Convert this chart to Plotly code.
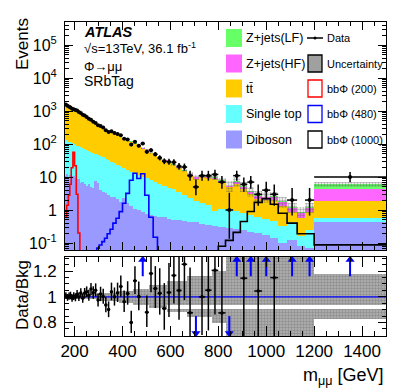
import numpy as np
import plotly.graph_objects as go

# bin edges, m_mumu [GeV]
edges = [160, 167, 174, 180, 186, 193, 200, 207, 214, 222, 230, 238, 246, 255, 264, 273, 283, 293,
         303, 314, 325, 336, 348, 360, 373, 386, 400, 414, 429, 444, 460, 476, 493, 510, 528, 546,
         565, 584, 604, 625, 647, 670, 694, 719, 745, 772, 800, 830, 862, 892, 921, 950, 983, 1017,
         1050, 1087, 1129, 1162, 1200, 1500]

# background expectations per bin (events)
diboson = [11, 12, 10, 11.5, 9, 10.5, 9.5, 8, 8.5, 6.5,
           7, 6, 5.5, 6, 5, 4.8, 7.5, 6.5, 4, 3.5,
           3.2, 2.8, 2.5, 2.4, 2.2, 1.8, 2.3, 1.6, 1.3, 1.1,
           1.0, 0.9, 0.75, 0.7, 0.65, 0.6, 0.62, 0.55, 0.5, 0.5,
           0.45, 0.42, 0.42, 0.38, 0.35, 0.32, 0.3, 0.28, 0.26, 0.24,
           0.22, 0.2, 0.17, 0.14, 0.1, 0.12, 0.08, 0.07, 0.42]
single_top = [121, 113, 108, 100, 97, 90, 85, 82, 76, 73,
              67, 64, 60, 55, 52, 48, 42, 40, 39, 36,
              33, 29, 26.5, 23.6, 21.3, 19.2, 16.7, 14.9, 13.2, 11.9,
              10.5, 9.1, 8.3, 7.3, 6.4, 5.4, 4.7, 4.1, 3.7, 3.0,
              2.35, 1.88, 1.48, 1.22, 1.05, 0.63, 0.8, 0.77, 0.69, 0.56,
              0.48, 0.42, 0.38, 0.31, 0.22, 0.3, 0.08, 0.18, 0.15]
ttbar = [1360, 1267, 1182, 1101, 1026, 979, 935, 892, 817, 740,
         673, 613, 541, 493, 439, 385, 350, 320, 289, 263,
         234, 214, 197, 181, 164, 143, 125, 113, 101, 88,
         74, 61.5, 53, 43.7, 36.3, 28.8, 25.7, 21.7, 18.3, 15.3,
         12.2, 9.0, 7.1, 8.3, 8.0, 8.0, 6.1, 3.9, 5.1, 3.4,
         2.3, 1.6, 1.4, 1.5, 1.0, 0.45, 0.41, 0.61, 1.35]
zjets_hf = [39, 36, 34, 32, 29, 28, 27, 26, 23, 21,
            19, 18, 16, 14, 13, 11, 10, 9.5, 8.6, 7.9,
            7.0, 6.4, 5.9, 5.4, 4.9, 4.3, 3.8, 3.4, 3.0, 2.6,
            2.2, 3.0, 2.6, 2.2, 1.8, 1.5, 1.3, 1.1, 1.0, 0.8,
            0.64, 0.88, 0.7, 0.77, 0.74, 0.7, 0.56, 0.39, 1.1, 0.78,
            0.6, 0.5, 0.45, 0.52, 0.4, 0.3, 0.26, 0.3, 2.4]
zjets_lf = [19, 17, 16, 15, 14, 13, 13, 12, 11, 10,
            9, 9, 8, 7, 6, 5.5, 5, 4.5, 4.1, 3.8,
            3.4, 3.1, 2.8, 2.6, 2.3, 2.0, 1.8, 1.6, 1.4, 1.3,
            1.1, 1.5, 1.3, 1.1, 0.9, 0.7, 0.7, 0.6, 0.5, 0.4,
            0.32, 0.38, 0.3, 0.33, 0.32, 0.3, 0.24, 0.17, 0.38, 0.26,
            0.2, 0.15, 0.13, 0.14, 0.1, 0.08, 0.07, 0.09, 1.8]

# relative background uncertainty per bin
unc_rel = [0.015, 0.015, 0.015, 0.015, 0.015, 0.015, 0.015, 0.015, 0.015, 0.015,
           0.02, 0.02, 0.02, 0.02, 0.02, 0.02, 0.02, 0.02, 0.03, 0.03,
           0.03, 0.03, 0.03, 0.03, 0.03, 0.045, 0.045, 0.045, 0.045, 0.06,
           0.06, 0.06, 0.06, 0.09, 0.09, 0.09, 0.09, 0.12, 0.12, 0.12,
           0.12, 0.16, 0.16, 0.16, 0.16, 0.2, 0.2, 0.35, 0.35, 0.35,
           0.35, 0.35, 0.35, 0.35, 0.35, 0.35, 0.35, 0.35, 0.175]

# observed events
data = [1566, 1438, 1357, 1273, 1163, 1126, 1065, 1040, 935, 876,
        767, 731, 655, 581, 546, 469, 436, 371, 352, 315,
        263, 230, 244, 215, 201, 184, 144, 138, 96, 118,
        89, 103, 58, 65, 49, 38, 30, 29, 28, 21,
        20, 11, 5, 11, 11, 12, 7, 1, 11, 6,
        7, 3, 4, 3, 0, 2, 0, 2, 10]

# signal templates bbPhi
sig_200 = [0.6, 1.4, 2.8, 6, 19, 56, 22, 3, 0.2] + [0] * 50
sig_480 = [0] * 17 + [0.07, 0.087, 0.11, 0.14, 0.19, 0.26, 0.4, 0.56, 0.89, 1.6,
                      3.2, 8.0, 13, 9.0, 12.5, 2.8, 0.6, 0.15] + [0] * 24
sig_1000 = [0] * 46 + [0.08, 0.12, 0.21, 0.45, 0.9, 1.7, 2.2, 1.5, 0.8, 0.4, 0.19, 0.19, 0.088]

edges = np.array(edges, dtype=float)
centers = 0.5 * (edges[:-1] + edges[1:])
widths = np.diff(edges)
data = np.array(data, dtype=float)
unc_rel = np.array(unc_rel)

stack = [(diboson, "#9999ff"), (single_top, "#66ffff"), (ttbar, "#ffcc00"),
         (zjets_hf, "#ff66ff"), (zjets_lf, "#66ff66")]
cum = np.cumsum([np.array(v, dtype=float) for v, _ in stack], axis=0)
total = cum[-1]

fig = go.Figure()

# stacked backgrounds: draw cumulative tops, top layer first
for (vals, col), top in reversed(list(zip(stack, cum))):
    fig.add_trace(go.Bar(x=centers, y=top, width=widths, marker=dict(color=col, line=dict(width=0)),
                         xaxis="x", yaxis="y", hoverinfo="skip"))

# hatched uncertainty on top of the stack
hatch_main = dict(shape=".", fgcolor="#555555", bgcolor="rgba(0,0,0,0)", size=3, solidity=0.5, fillmode="overlay")
fig.add_trace(go.Bar(x=centers, y=2 * unc_rel * total, base=total * (1 - unc_rel), width=widths,
                     marker=dict(color="rgba(0,0,0,0)", pattern=hatch_main, line=dict(width=0)),
                     xaxis="x", yaxis="y", hoverinfo="skip"))

# signal step lines
def step(vals):
    y = np.array(vals, dtype=float)
    y = np.where(y > 0, y, 1e-3)
    return np.append(y, y[-1])

for vals, col in [(sig_200, "#ff0000"), (sig_480, "#0000ff"), (sig_1000, "#000000")]:
    fig.add_trace(go.Scatter(x=edges, y=step(vals), mode="lines", line=dict(color=col, width=1.6, shape="hv"),
                             xaxis="x", yaxis="y", hoverinfo="skip"))

# data points (approximate Poisson intervals)
has = data > 0
err_up = np.sqrt(data + 0.75) + 1
err_dn = np.sqrt(np.clip(data - 0.25, 0, None))
fig.add_trace(go.Scatter(x=centers[has], y=data[has], mode="markers",
                         marker=dict(color="black", size=4),
                         error_y=dict(type="data", symmetric=False, array=err_up[has], arrayminus=err_dn[has],
                                      width=0, thickness=1.5, color="black"),
                         error_x=dict(type="data", array=widths[has] / 2, width=0, thickness=1.5, color="black"),
                         xaxis="x", yaxis="y", hoverinfo="skip"))

# ---- ratio panel ----
r_lo, r_hi = 0.695, 1.31
hatch_ratio = dict(shape=".", fgcolor="#6a6a6a", bgcolor="#b2b2b2", size=3, solidity=0.5)
fig.add_trace(go.Bar(x=centers, y=2 * unc_rel, base=1 - unc_rel, width=widths,
                     marker=dict(color="#b2b2b2", pattern=hatch_ratio, line=dict(width=0)),
                     xaxis="x2", yaxis="y2", hoverinfo="skip"))
gap = (1 - unc_rel) < 0.904
fig.add_trace(go.Bar(x=centers[gap], y=np.full(gap.sum(), 0.033), base=np.full(gap.sum(), 0.904),
                     width=widths[gap], marker=dict(color="white", line=dict(width=0)),
                     xaxis="x2", yaxis="y2", hoverinfo="skip"))
fig.add_trace(go.Scatter(x=[edges[0], edges[-1]], y=[1, 1], mode="lines", line=dict(color="#0000ff", width=1.2),
                         xaxis="x2", yaxis="y2", hoverinfo="skip"))

ratio = np.where(has, data / total, np.nan)
inr = has & (ratio > r_lo) & (ratio < r_hi)
fig.add_trace(go.Scatter(x=centers[inr], y=ratio[inr], mode="markers", marker=dict(color="black", size=3.5),
                         error_y=dict(type="data", symmetric=False, array=(err_up / total)[inr],
                                      arrayminus=(err_dn / total)[inr], width=0, thickness=1.5, color="black"),
                         error_x=dict(type="data", array=widths[inr] / 2, width=0, thickness=1.5, color="black"),
                         xaxis="x2", yaxis="y2", hoverinfo="skip"))

# off-scale arrows
up = has & (ratio >= r_hi)
dn = has & (ratio <= r_lo)
ax, ay = [], []
for c in centers[up]:
    ax += [c, c, None]
    ay += [1.16, 1.29, None]
for c in centers[dn]:
    ax += [c, c, None]
    ay += [0.85, 0.72, None]
fig.add_trace(go.Scatter(x=ax, y=ay, mode="lines", line=dict(color="#0000ff", width=2),
                         xaxis="x2", yaxis="y2", hoverinfo="skip"))
fig.add_trace(go.Scatter(x=centers[up], y=np.full(up.sum(), 1.288), mode="markers",
                         marker=dict(symbol="triangle-up", color="#0000ff", size=8),
                         xaxis="x2", yaxis="y2", hoverinfo="skip"))
fig.add_trace(go.Scatter(x=centers[dn], y=np.full(dn.sum(), 0.717), mode="markers",
                         marker=dict(symbol="triangle-down", color="#0000ff", size=8),
                         xaxis="x2", yaxis="y2", hoverinfo="skip"))

# ---- layout ----
L, R, T, B = 65, 386, 22, 336
def pxx(x): return (x - L) / (R - L)
def pxy(y): return (B - y) / (B - T)

axis_common = dict(showline=True, linecolor="black", linewidth=1, mirror="ticks", ticks="inside",
                   tickcolor="black", tickwidth=1, showgrid=False, zeroline=False, automargin=False)
minor_log = [m * 10.0 ** e for e in range(-2, 6) for m in range(2, 10)]

fig.update_layout(
    width=407, height=391,
    margin=dict(l=L, r=407 - R, t=T, b=391 - B),
    paper_bgcolor="white", plot_bgcolor="white",
    barmode="overlay", bargap=0, showlegend=False,
    font=dict(family="Liberation Sans, Arial, sans-serif", color="black"),
    xaxis=dict(axis_common, domain=[0, 1], anchor="y", range=[160, 1500], tick0=0, dtick=200,
               ticklen=8, showticklabels=False,
               minor=dict(dtick=50, tick0=0, ticks="inside", ticklen=4, tickcolor="black", showgrid=False)),
    yaxis=dict(axis_common, domain=[pxy(250), 1], anchor="x", type="log", range=[-1.212, 5.697],
               tickvals=[0.1, 1, 10, 100, 1e3, 1e4, 1e5],
               ticktext=["10<sup>-1</sup>", "1", "10", "10<sup>2</sup>", "10<sup>3</sup>", "10<sup>4</sup>",
                         "10<sup>5</sup>"],
               ticklen=8, tickfont=dict(size=16), ticklabelstandoff=4,
               minor=dict(tickmode="array", tickvals=minor_log, ticks="inside", ticklen=4,
                          tickcolor="black", showgrid=False)),
    xaxis2=dict(axis_common, domain=[0, 1], anchor="y2", range=[160, 1500], tick0=0, dtick=200,
                ticklen=10, tickfont=dict(size=17),
                minor=dict(dtick=50, tick0=0, ticks="inside", ticklen=5, tickcolor="black", showgrid=False)),
    yaxis2=dict(axis_common, domain=[0, pxy(257)], anchor="x2", range=[r_lo, r_hi],
                tickvals=[0.8, 1.0, 1.2], ticktext=["0.8", "1", "1.2"], ticklen=8,
                tickfont=dict(size=17), ticklabelstandoff=4,
                minor=dict(dtick=0.05, tick0=0, ticks="inside", ticklen=4, tickcolor="black", showgrid=False)),
)

ann = []
def text(x, y, s, size, anchor="left", angle=0, **kw):
    ann.append(dict(x=pxx(x), y=pxy(y), xref="paper", yref="paper", text=s, showarrow=False,
                    xanchor=anchor, yanchor="middle", textangle=angle, font=dict(size=size, **kw)))

text(82, 32, "<b><i>ATLAS</i></b>", 14.5)
text(82, 48, "√s=13TeV, 36.1 fb<sup>-1</sup>", 13)
text(82, 66, "Φ→μμ", 13)
text(82, 80.5, "SRbTag", 14)
text(22, 44, "Events", 17, anchor="center", angle=-90)
text(22, 295, "Data/Bkg", 17, anchor="center", angle=-90)
text(386, 376, "m<sub>μμ</sub> [GeV]", 18, anchor="right")

# legend drawn by hand (two columns)
shapes = []
rows = [38, 63.5, 88.5, 114, 139.5]
left_items = [("Z+jets(LF)", "#66ff66"), ("Z+jets(HF)", "#ff66ff"), ("tt\u0304", "#ffcc00"),
              ("Single top", "#66ffff"), ("Diboson", "#9999ff")]
for (lab, col), yc in zip(left_items, rows):
    shapes.append(dict(type="rect", xref="paper", yref="paper", x0=pxx(226), x1=pxx(242),
                       y0=pxy(yc + 9), y1=pxy(yc - 9), fillcolor=col, line=dict(width=0)))
    text(244, yc, lab, 12.5)

shapes.append(dict(type="line", xref="paper", yref="paper", x0=pxx(307), x1=pxx(323),
                   y0=pxy(rows[0]), y1=pxy(rows[0]), line=dict(color="black", width=1.5)))
shapes.append(dict(type="circle", xref="paper", yref="paper", x0=pxx(313.5), x1=pxx(316.5),
                   y0=pxy(rows[0] + 1.5), y1=pxy(rows[0] - 1.5), fillcolor="black", line=dict(width=0)))
text(325, rows[0], "Data", 11)
right_items = [("Uncertainty", "#a0a0a0", "black"), ("bbΦ (200)", "white", "#ff0000"),
               ("bbΦ (480)", "white", "#0000ff"), ("bbΦ (1000)", "white", "black")]
for (lab, fill, edge), yc in zip(right_items, rows[1:]):
    shapes.append(dict(type="rect", xref="paper", yref="paper", x0=pxx(308), x1=pxx(322),
                       y0=pxy(yc + 8.5), y1=pxy(yc - 8.5), fillcolor=fill, line=dict(color=edge, width=1.3)))
    text(325, yc, lab, 11)

fig.update_layout(annotations=ann, shapes=shapes)

# page body margin off so the figure sits at the window origin
fig.write_html("out.html", config={"displayModeBar": False},
               post_script="document.body.style.margin='0';")
